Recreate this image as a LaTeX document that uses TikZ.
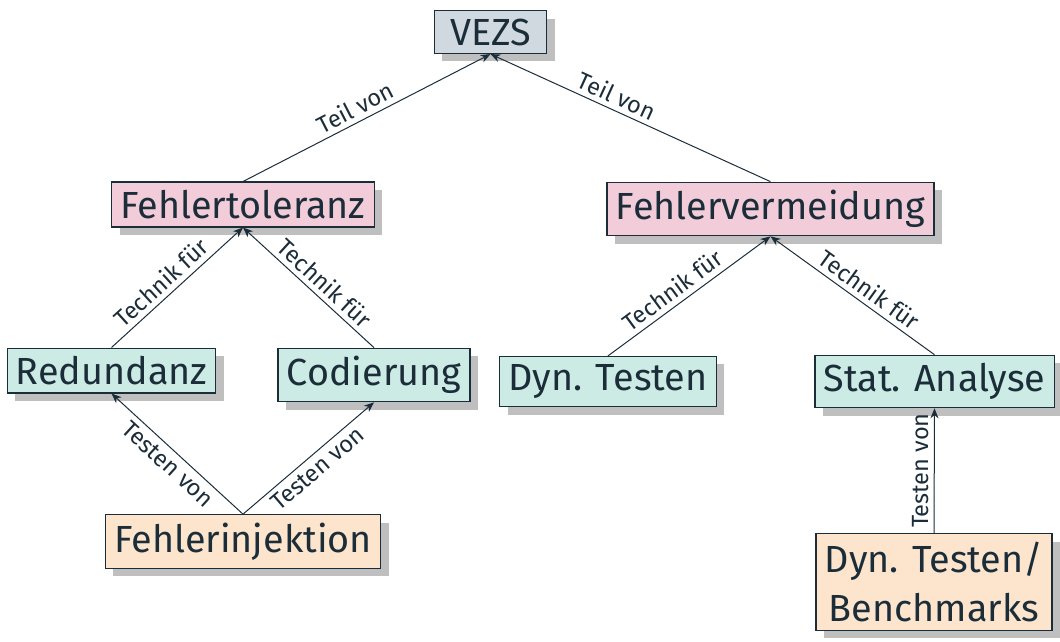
\documentclass[tikz,border=0pt]{standalone}
\usepackage{fontspec}
\setmainfont{Fira Sans}
\usetikzlibrary{shadows,arrows.meta}

\definecolor{darkteal}{RGB}{28,45,58}
\definecolor{topfill}{RGB}{207,217,223}
\definecolor{goalfill}{RGB}{242,204,216}
\definecolor{techfill}{RGB}{204,235,228}
\definecolor{testfill}{RGB}{253,228,204}
\definecolor{shadowgray}{RGB}{191,191,191}

\begin{document}
\begin{tikzpicture}
            [x=0.4pt, y=-0.4pt, >={Stealth[length=4pt,width=3.2pt]},
            box/.style={draw=darkteal, line width=0.5pt, text=darkteal, inner xsep=3.5pt, inner ysep=3.2pt,
                font=\fontsize{15.1}{19.8}\selectfont, align=center,
                drop shadow={shadow xshift=3.2pt, shadow yshift=-3.2pt, fill=shadowgray, opacity=1}},
            top/.style={box, fill=topfill, minimum width=45pt},
            goal/.style={box, fill=goalfill},
            tech/.style={box, fill=techfill},
            test/.style={box, fill=testfill},
            rel/.style={darkteal, line width=0.4pt},
            lbl/.style={sloped, text=darkteal, inner sep=2pt, font=\fontsize{9.4}{11}\selectfont}]

            \useasboundingbox (0,0) rectangle (1060,641);

            \node[top] (vezs) at (490.5,32) {VEZS};
            \node[goal] (toleranz) at (243,204.5) {Fehlertoleranz};
            \node[goal] (vermeidung) at (770.5,209) {Fehlervermeidung};
            \node[tech] (redundanz) at (111.5,370.5) {Redundanz};
            \node[tech] (codierung) at (374,375) {Codierung};
            \node[tech] (dyntest) at (608,381.5) {Dyn. Testen};
            \node[tech] (statana) at (934.5,381.5) {Stat. Analyse};
            \node[test] (injektion) at (243,541.5) {Fehlerinjektion};
            \node[test] (bench) at (934,582) {Dyn. Testen/\\Benchmarks};

            % Teil von
            \draw[rel,->] (toleranz.north) -- node[lbl, above, pos=0.48] {Teil von} (vezs.south);
            \draw[rel,<-] (vezs.south) -- node[lbl, above, pos=0.43] {Teil von} (vermeidung.north);

            % Technik fuer
            \draw[rel,->] (redundanz.north) -- node[lbl, above, pos=0.45] {Technik für} (toleranz.south);
            \draw[rel,<-] (toleranz.south) -- node[lbl, above, pos=0.55] {Technik für} (codierung.north);
            \draw[rel,->] (dyntest.north) -- node[lbl, above, pos=0.45] {Technik für} (vermeidung.south);
            \draw[rel,<-] (vermeidung.south) -- node[lbl, above, pos=0.55] {Technik für} (statana.north);

            % Testen von
            \draw[rel,<-] (redundanz.south) -- node[lbl, below] {Testen von} (injektion.north);
            \draw[rel,->] (injektion.north) -- node[lbl, below] {Testen von} (codierung.south);
            \draw[rel,->] (bench.north) -- node[lbl, above] {Testen von} (statana.south);

        \end{tikzpicture}
\end{document}
